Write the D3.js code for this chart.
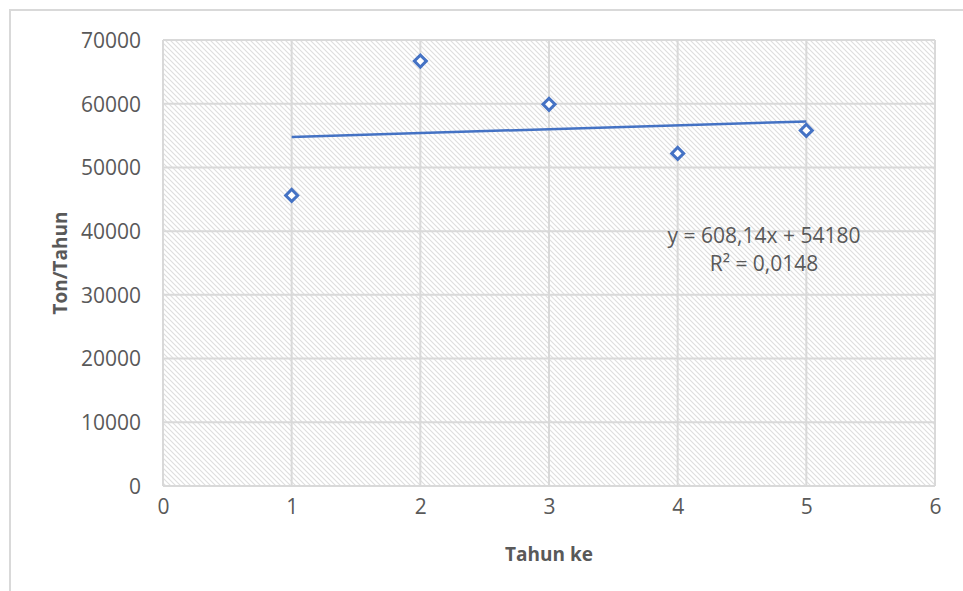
<!DOCTYPE html>
<html>
<head>
<meta charset="utf-8">
<script src="https://cdn.jsdelivr.net/npm/d3@7"></script>
<style>
  body { margin: 0; background: #fff; }
  svg text { font-family: "Open Sans", "Liberation Sans", sans-serif; fill: #595959; }
</style>
</head>
<body>
<div id="chart"></div>
<script>
// data
const years = [1, 2, 3, 4, 5];
const tonnage = [45600, 66700, 59900, 52200, 55800];
const xTicks = [0, 1, 2, 3, 4, 5, 6];
const yTicks = [0, 10000, 20000, 30000, 40000, 50000, 60000, 70000];
const slope = 608.14;
const intercept = 54180;
const eqLines = ["y = 608,14x + 54180", "R² = 0,0148"];

const width = 963, height = 591;
const margin = { left: 163, right: 28, top: 40, bottom: 105 };

const svg = d3.select("#chart").append("svg")
  .attr("width", width)
  .attr("height", height);

// hatch pattern for plot area
const defs = svg.append("defs");
const pat = defs.append("pattern")
  .attr("id", "hatch")
  .attr("patternUnits", "userSpaceOnUse")
  .attr("width", 5)
  .attr("height", 5);
pat.append("rect").attr("width", 5).attr("height", 5).attr("fill", "#fff");
pat.append("path")
  .attr("d", "M-1,-1 L6,6 M-1,4 L1,6 M4,-1 L6,1")
  .attr("stroke", "#dedede")
  .attr("stroke-width", 1.1);

// outer chart frame (runs off the page right/bottom)
svg.append("rect")
  .attr("x", 10).attr("y", 10)
  .attr("width", 1000).attr("height", 700)
  .attr("fill", "none")
  .attr("stroke", "#d9d9d9")
  .attr("stroke-width", 2);

const x = d3.scaleLinear().domain([0, 6]).range([margin.left, width - margin.right]);
const y = d3.scaleLinear().domain([0, 70000]).range([height - margin.bottom, margin.top]);

svg.append("rect")
  .attr("x", x(0)).attr("y", y(70000))
  .attr("width", x(6) - x(0))
  .attr("height", y(0) - y(70000))
  .attr("fill", "url(#hatch)");

// grid
svg.append("g").selectAll("line")
  .data(xTicks)
  .join("line")
  .attr("x1", d => x(d)).attr("x2", d => x(d))
  .attr("y1", y(0)).attr("y2", y(70000))
  .attr("stroke", "#d9d9d9").attr("stroke-width", 2);

svg.append("g").selectAll("line")
  .data(yTicks)
  .join("line")
  .attr("x1", x(0)).attr("x2", x(6))
  .attr("y1", d => y(d)).attr("y2", d => y(d))
  .attr("stroke", "#d9d9d9").attr("stroke-width", 2);

// axes
const yAxis = svg.append("g")
  .attr("transform", `translate(${x(0)},0)`)
  .call(d3.axisLeft(y).tickValues(yTicks).tickSize(0).tickPadding(22).tickFormat(d3.format("d")));
yAxis.select(".domain").remove();
yAxis.selectAll("text").style("font-size", "21px").attr("dy", "0.35em");

const xAxis = svg.append("g")
  .attr("transform", `translate(0,${y(0)})`)
  .call(d3.axisBottom(x).tickValues(xTicks).tickSize(0).tickPadding(13).tickFormat(d3.format("d")));
xAxis.select(".domain").remove();
xAxis.selectAll("text").style("font-size", "21px");

// axis titles
svg.append("text")
  .attr("x", (x(0) + x(6)) / 2)
  .attr("y", 561)
  .attr("text-anchor", "middle")
  .style("font-size", "19px")
  .style("font-weight", "bold")
  .text("Tahun ke");

svg.append("text")
  .attr("transform", `translate(67,${(y(0) + y(70000)) / 2}) rotate(-90)`)
  .attr("text-anchor", "middle")
  .style("font-size", "19px")
  .style("font-weight", "bold")
  .text("Ton/Tahun");

// linear trend
const trendX = [d3.min(years), d3.max(years)];
svg.append("line")
  .attr("x1", x(trendX[0])).attr("y1", y(slope * trendX[0] + intercept))
  .attr("x2", x(trendX[1])).attr("y2", y(slope * trendX[1] + intercept))
  .attr("stroke", "#4472c4")
  .attr("stroke-width", 2.5);

// points
const diamond = d3.symbol().type(d3.symbolSquare).size(72);
svg.append("g").selectAll("path")
  .data(years.map((d, i) => ({ x: d, y: tonnage[i] })))
  .join("path")
  .attr("d", diamond)
  .attr("transform", d => `translate(${x(d.x)},${y(d.y)}) rotate(45)`)
  .attr("fill", "#fff")
  .attr("stroke", "#4472c4")
  .attr("stroke-width", 3);

// equation label
svg.append("g").selectAll("text")
  .data(eqLines)
  .join("text")
  .attr("x", 764)
  .attr("y", (d, i) => 243 + i * 28)
  .attr("text-anchor", "middle")
  .style("font-size", "21px")
  .text(d => d);
</script>
</body>
</html>
